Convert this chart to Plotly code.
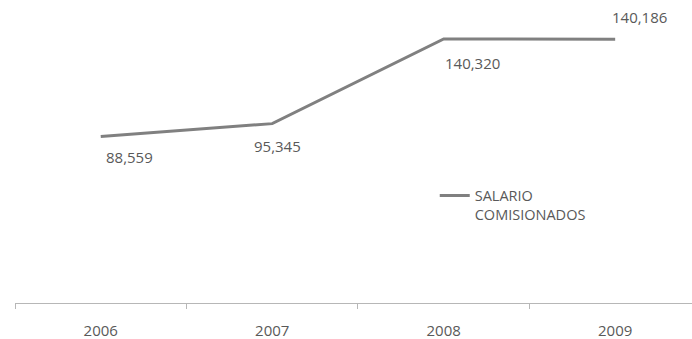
import plotly.graph_objects as go

years = ["2006", "2007", "2008", "2009"]
salario = [88559, 95345, 140320, 140186]
labels = ["88,559", "95,345", "140,320", "140,186"]
series_name = "SALARIO<br>COMISIONADOS"

# label offsets (px): (xshift, yshift)
offsets = [(3, -21), (-20, -22), (-1, -24), (-5, 22)]

FONT = "Open Sans"
TXT = "#595959"

fig = go.Figure()
fig.add_trace(go.Scatter(
    x=years, y=salario, mode="lines", name=series_name,
    line=dict(color="#808080", width=3),
))

for i, (y, t, (dx, dy)) in enumerate(zip(salario, labels, offsets)):
    fig.add_annotation(x=i, y=y, text=t, showarrow=False,
                       xref="x", yref="y",
                       xanchor="left", yanchor="middle",
                       xshift=dx, yshift=dy,
                       font=dict(family=FONT, size=15, color=TXT))

fig.update_layout(
    width=692, height=339,
    margin=dict(l=15, r=0, t=2, b=36),
    paper_bgcolor="white", plot_bgcolor="white",
    showlegend=True,
    legend=dict(x=0.62, y=0.41, xanchor="left", yanchor="top",
                valign="top", bgcolor="rgba(0,0,0,0)",
                font=dict(family=FONT, size=14.5, color=TXT)),
    xaxis=dict(type="category", range=[-0.5, 3.448],
               showline=True, linecolor="#b7b7b7", linewidth=1,
               ticks="outside", tickson="boundaries", ticklen=5,
               tickcolor="#b7b7b7", showgrid=False, zeroline=False,
               ticklabelstandoff=14,
               tickfont=dict(family=FONT, size=15, color=TXT)),
    yaxis=dict(range=[0, 160000], visible=False, showgrid=False,
               zeroline=False),
)

fig.write_html("out.html")
